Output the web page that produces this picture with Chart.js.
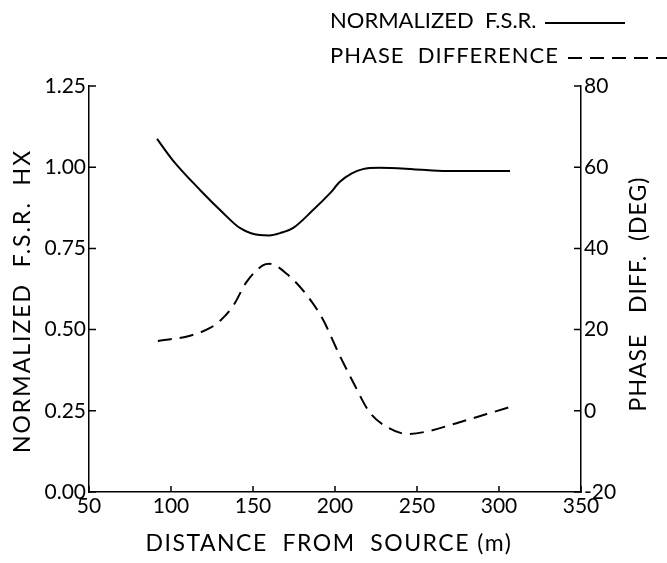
<!DOCTYPE html>
<html>
<head>
<meta charset="utf-8">
<script src="https://cdn.jsdelivr.net/npm/chart.js@4"></script>
<style>body{margin:0;background:#fff}</style>
</head>
<body>
<canvas id="fsr-chart" width="667" height="563"></canvas>
<script>
// Data
const fsrDistance = [91.5, 101, 117.7, 131.8, 142, 154, 160, 166.5, 174.5, 186.6, 197, 203, 210, 217, 227, 247.6, 268, 306.7];
const fsrValues = [1.087, 1.022, 0.93, 0.859, 0.813, 0.791, 0.79, 0.797, 0.813, 0.868, 0.92, 0.955, 0.98, 0.994, 0.998, 0.994, 0.988, 0.988];

const phaseDistance = [92, 111.6, 123.8, 130, 138, 146, 156, 160, 170.7, 183, 192.5, 203, 211, 221, 231.7, 244, 256, 276, 292.5, 309.8];
const phaseValues = [17.2, 18.5, 20.4, 22.2, 25.9, 31.7, 35.8, 36.2, 33.7, 28.4, 22.6, 13.5, 7.1, -0.3, -4, -5.7, -5.1, -2.8, -0.8, 1.3];

const xTicks = [50, 100, 150, 200, 250, 300, 350];
const leftTicks = [0, 0.25, 0.5, 0.75, 1.0, 1.25];
const rightTicks = [-20, 0, 20, 40, 60, 80];

const FONT = 'Lato, "DejaVu Sans", sans-serif';

const toPoints = (xs, ys) => xs.map((x, i) => ({x: x, y: ys[i]}));

// inward tick marks, axis titles and legend
const extras = {
  id: 'extras',
  afterDraw(chart) {
    const ctx = chart.ctx;
    const {x, y, y1} = chart.scales;
    const area = chart.chartArea;
    ctx.save();
    ctx.strokeStyle = '#000';
    ctx.lineWidth = 1.5;
    ctx.beginPath();
    leftTicks.forEach(v => {
      const py = y.getPixelForValue(v);
      ctx.moveTo(area.left, py); ctx.lineTo(area.left + 7, py);
    });
    rightTicks.forEach(v => {
      const py = y1.getPixelForValue(v);
      ctx.moveTo(area.right, py); ctx.lineTo(area.right - 7, py);
    });
    xTicks.forEach(v => {
      const px = x.getPixelForValue(v);
      ctx.moveTo(px, area.bottom); ctx.lineTo(px, area.bottom - 6);
    });
    ctx.stroke();

    ctx.fillStyle = '#000';
    ctx.font = '23px ' + FONT;
    ctx.textAlign = 'center';
    ctx.textBaseline = 'middle';
    ctx.letterSpacing = '1.5px';
    ctx.fillText('DISTANCE  FROM  SOURCE (m)', 329, 544);

    ctx.save();
    ctx.translate(23, 301);
    ctx.rotate(-Math.PI / 2);
    ctx.letterSpacing = '2px';
    ctx.fillText('NORMALIZED  F.S.R.  HX', 0, 0);
    ctx.restore();

    ctx.save();
    ctx.translate(639, 294);
    ctx.rotate(-Math.PI / 2);
    ctx.letterSpacing = '1px';
    ctx.fillText('PHASE   DIFF.  (DEG)', 0, 0);
    ctx.restore();

    // legend
    ctx.font = '22px ' + FONT;
    ctx.textAlign = 'left';
    ctx.letterSpacing = '0px';
    ctx.fillText('NORMALIZED  F.S.R.', 330, 21);
    ctx.letterSpacing = '1px';
    ctx.fillText('PHASE  DIFFERENCE', 330, 56);
    ctx.lineWidth = 2;
    ctx.beginPath();
    ctx.moveTo(545, 23); ctx.lineTo(625, 23);
    ctx.stroke();
    ctx.setLineDash([14, 8]);
    ctx.beginPath();
    ctx.moveTo(568, 58); ctx.lineTo(667, 58);
    ctx.stroke();
    ctx.restore();
  }
};

const config = {
  type: 'line',
  data: {
    datasets: [
      {
        label: 'NORMALIZED F.S.R.',
        data: toPoints(fsrDistance, fsrValues),
        yAxisID: 'y',
        borderColor: '#000',
        borderWidth: 2,
        pointRadius: 0,
        cubicInterpolationMode: 'monotone'
      },
      {
        label: 'PHASE DIFFERENCE',
        data: toPoints(phaseDistance, phaseValues),
        yAxisID: 'y1',
        borderColor: '#000',
        borderWidth: 2,
        borderDash: [14, 8],
        pointRadius: 0,
        cubicInterpolationMode: 'monotone'
      }
    ]
  },
  options: {
    responsive: false,
    animation: false,
    devicePixelRatio: 1,
    layout: {padding: {top: 86, left: 0, right: 0, bottom: 0}},
    plugins: {legend: {display: false}, tooltip: {enabled: false}},
    scales: {
      x: {
        type: 'linear',
        min: 50, max: 350,
        afterFit: s => { s.height = 71; },
        afterBuildTicks: s => { s.ticks = xTicks.map(v => ({value: v})); },
        grid: {display: false, drawTicks: false},
        border: {display: true, color: '#000', width: 1.5},
        ticks: {color: '#000', font: {family: FONT, size: 21}, padding: 2, maxRotation: 0}
      },
      y: {
        position: 'left',
        min: 0, max: 1.25,
        afterFit: s => { s.width = 89; },
        afterBuildTicks: s => { s.ticks = leftTicks.map(v => ({value: v})); },
        grid: {display: false, drawTicks: false},
        border: {display: true, color: '#000', width: 1.5},
        ticks: {color: '#000', font: {family: FONT, size: 21}, padding: 3,
          callback: v => v.toFixed(2)}
      },
      y1: {
        position: 'right',
        min: -20, max: 80,
        afterFit: s => { s.width = 86; },
        afterBuildTicks: s => { s.ticks = rightTicks.map(v => ({value: v})); },
        grid: {display: false, drawTicks: false},
        border: {display: true, color: '#000', width: 1.5},
        ticks: {color: '#000', font: {family: FONT, size: 21}, padding: 3}
      }
    }
  },
  plugins: [extras]
};

const fsrChart = new Chart(document.getElementById('fsr-chart'), config);
</script>
</body>
</html>
